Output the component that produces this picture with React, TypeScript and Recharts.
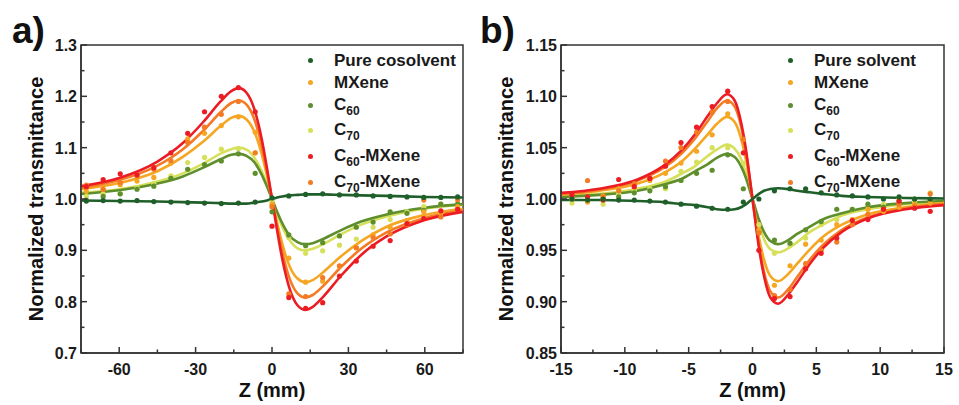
import React from "react";
import {
  ComposedChart,
  Line,
  Scatter,
  XAxis,
  YAxis,
  ReferenceArea,
} from "recharts";

const FONT = "'Liberation Sans', Arial, Helvetica, sans-serif";

const seriesColors = ["#1f5f2a", "#f5a623", "#5e8f2c", "#d6e05b", "#ec1c24", "#f47a24"];
const namesA = ["Pure cosolvent", "MXene", "C60", "C70", "C60-MXene", "C70-MXene"];
const namesB = ["Pure solvent", "MXene", "C60", "C70", "C60-MXene", "C70-MXene"];

// ---- panel a (z in mm) ----
const fitZA = [-75, -60, -45, -35, -27, -20, -16, -13, -10, -7, -4, -2, 0, 2, 4, 7, 10, 13, 16, 20, 27, 35, 45, 60, 75];
const pureFitA = [0.997, 0.996, 0.995, 0.994, 0.993, 0.992, 0.991, 0.991, 0.991, 0.993, 0.995, 0.997, 1.0, 1.003, 1.005, 1.007, 1.008, 1.009, 1.009, 1.009, 1.008, 1.007, 1.006, 1.004, 1.003];
const mxeneFitA = [1.019, 1.031, 1.054, 1.082, 1.112, 1.143, 1.158, 1.162, 1.155, 1.132, 1.087, 1.046, 1.0, 0.954, 0.913, 0.868, 0.845, 0.838, 0.842, 0.857, 0.888, 0.918, 0.946, 0.969, 0.981];
const c60FitA = [1.01, 1.017, 1.03, 1.044, 1.061, 1.078, 1.086, 1.088, 1.084, 1.072, 1.047, 1.025, 1.0, 0.975, 0.953, 0.928, 0.916, 0.912, 0.914, 0.922, 0.939, 0.956, 0.97, 0.983, 0.99];
const c70FitA = [1.012, 1.019, 1.034, 1.05, 1.069, 1.089, 1.097, 1.1, 1.096, 1.081, 1.054, 1.028, 1.0, 0.972, 0.946, 0.919, 0.904, 0.9, 0.903, 0.912, 0.931, 0.95, 0.966, 0.981, 0.989];
const c60mFitA = [1.025, 1.041, 1.073, 1.109, 1.15, 1.191, 1.21, 1.216, 1.207, 1.176, 1.116, 1.061, 1.0, 0.939, 0.884, 0.824, 0.793, 0.784, 0.79, 0.809, 0.85, 0.891, 0.927, 0.959, 0.975];
const c70mFitA = [1.022, 1.037, 1.065, 1.097, 1.133, 1.17, 1.187, 1.192, 1.184, 1.156, 1.103, 1.054, 1.0, 0.946, 0.897, 0.844, 0.816, 0.808, 0.813, 0.83, 0.867, 0.903, 0.935, 0.963, 0.978];

const ptZA = [-72.9, -66.3, -59.6, -53, -46.4, -39.7, -33.1, -26.5, -19.9, -13.2, -6.6, 0, 6.6, 13.2, 19.9, 26.5, 33.1, 39.7, 46.4, 53, 59.6, 66.3, 72.9];
const purePtA = [0.996, 0.997, 0.996, 0.997, 0.995, 0.994, 0.993, 0.992, 0.991, 0.992, 0.994, 1.002, 1.006, 1.009, 1.01, 1.008, 1.008, 1.006, 1.005, 1.004, 1.003, 1.003, 1.004];
const mxenePtA = [1.015, 1.019, 1.028, 1.035, 1.042, 1.07, 1.117, 1.128, 1.143, 1.16, 1.13, 0.99, 0.885, 0.838, 0.84, 0.869, 0.905, 0.93, 0.945, 0.958, 0.975, 0.972, 0.985];
const c60PtA = [0.998, 1.005, 1.01, 1.019, 1.025, 1.04, 1.058, 1.067, 1.074, 1.088, 1.05, 0.975, 0.93, 0.909, 0.915, 0.928, 0.945, 0.955, 0.975, 0.972, 0.978, 0.99, 0.99];
const c70PtA = [1.005, 1.01, 1.01, 1.022, 1.03, 1.045, 1.071, 1.081, 1.097, 1.098, 1.09, 0.995, 0.925, 0.894, 0.899, 0.91, 0.922, 0.945, 0.96, 0.975, 0.985, 0.99, 0.992];
const c60mPtA = [1.024, 1.038, 1.049, 1.047, 1.061, 1.09, 1.128, 1.17, 1.2, 1.217, 1.17, 0.947, 0.808, 0.787, 0.798, 0.85, 0.879, 0.908, 0.919, 0.952, 0.962, 0.977, 0.98];
const c70mPtA = [1.027, 1.019, 1.032, 1.045, 1.058, 1.075, 1.11, 1.14, 1.165, 1.19, 1.09, 0.985, 0.815, 0.81, 0.847, 0.87, 0.905, 0.925, 0.932, 0.95, 0.998, 0.965, 0.999];

const xTicksA = [-75, -60, -45, -30, -15, 0, 15, 30, 45, 60, 75];
const xMajorA = [-60, -30, 0, 30, 60];
const yTicksA = [0.7, 0.75, 0.8, 0.85, 0.9, 0.95, 1.0, 1.05, 1.1, 1.15, 1.2, 1.25, 1.3];
const yMajorA = [0.7, 0.8, 0.9, 1.0, 1.1, 1.2, 1.3];

// ---- panel b (z in mm) ----
const fitZB = [-15, -12, -9, -7, -5.5, -4.5, -3.5, -2.8, -2, -1.4, -0.9, -0.5, -0.25, 0, 0.25, 0.5, 0.9, 1.4, 2, 2.8, 3.5, 4.5, 5.5, 7, 9, 12, 15];
const pureFitB = [0.999, 0.999, 0.998, 0.997, 0.995, 0.994, 0.992, 0.99, 0.9895, 0.99, 0.992, 0.995, 0.9975, 1.0, 1.0025, 1.005, 1.008, 1.0098, 1.0105, 1.0096, 1.008, 1.0065, 1.005, 1.003, 1.002, 1.001, 1.0005];
const mxeneFitB = [1.004, 1.008, 1.015, 1.025, 1.037, 1.049, 1.063, 1.073, 1.08, 1.075, 1.059, 1.037, 1.019, 1.0, 0.981, 0.963, 0.941, 0.925, 0.92, 0.927, 0.937, 0.951, 0.963, 0.975, 0.985, 0.992, 0.996];
const c60FitB = [1.002, 1.004, 1.008, 1.014, 1.02, 1.027, 1.034, 1.04, 1.044, 1.041, 1.032, 1.02, 1.01, 1.0, 0.99, 0.98, 0.968, 0.959, 0.956, 0.96, 0.966, 0.973, 0.98, 0.986, 0.992, 0.996, 0.998];
const c70FitB = [1.003, 1.005, 1.01, 1.016, 1.025, 1.032, 1.042, 1.048, 1.053, 1.049, 1.039, 1.024, 1.013, 1.0, 0.988, 0.976, 0.961, 0.951, 0.948, 0.952, 0.958, 0.968, 0.975, 0.984, 0.99, 0.995, 0.997];
const c60mFitB = [1.006, 1.01, 1.019, 1.032, 1.048, 1.063, 1.081, 1.093, 1.102, 1.096, 1.075, 1.047, 1.024, 1.0, 0.976, 0.953, 0.925, 0.904, 0.898, 0.907, 0.919, 0.937, 0.952, 0.968, 0.981, 0.99, 0.994];
const c70mFitB = [1.005, 1.009, 1.018, 1.03, 1.045, 1.059, 1.076, 1.088, 1.096, 1.09, 1.071, 1.044, 1.023, 1.0, 0.977, 0.956, 0.929, 0.91, 0.904, 0.912, 0.924, 0.941, 0.955, 0.97, 0.982, 0.991, 0.995];

const ptZB = [-14.14, -12.92, -11.7, -10.48, -9.26, -8.04, -6.82, -5.6, -4.38, -3.16, -1.94, -0.72, 0.5, 1.72, 2.94, 4.16, 5.38, 6.6, 7.82, 9.04, 10.26, 11.48, 12.7, 13.92];
const purePtB = [1.0, 0.999, 1.0, 0.999, 0.999, 0.998, 0.997, 0.995, 0.993, 0.991, 0.99, 0.997, 1.0, 1.008, 1.01, 1.01, 1.006, 1.004, 1.003, 1.002, 1.0, 1.002, 1.0, 1.0];
const mxenePtB = [1.0, 0.997, 1.003, 1.01, 1.012, 1.018, 1.025, 1.035, 1.0465, 1.0625, 1.083, 1.058, 0.97, 0.916, 0.935, 0.956, 0.96, 0.975, 0.98, 0.99, 0.988, 0.992, 0.995, 0.996];
const c60PtB = [1.0, 0.998, 1.0, 1.002, 1.006, 1.008, 1.012, 1.018, 1.025, 1.028, 1.043, 1.01, 0.968, 0.96, 0.957, 0.97, 0.978, 0.99, 0.99, 0.995, 0.992, 0.998, 1.0, 0.999];
const c70PtB = [0.996, 1.0, 0.995, 1.005, 1.008, 1.01, 1.01, 1.027, 1.036, 1.05, 1.05, 1.035, 0.975, 0.947, 0.955, 0.962, 0.975, 0.98, 0.99, 0.99, 0.995, 1.0, 0.997, 1.006];
const c60mPtB = [1.004, 1.002, 0.999, 1.019, 1.012, 1.02, 1.032, 1.055, 1.07, 1.09, 1.105, 1.045, 0.95, 0.903, 0.905, 0.932, 0.947, 0.962, 0.979, 0.98, 0.99, 0.998, 0.991, 0.988];
const c70mPtB = [1.003, 1.018, 1.002, 1.008, 1.015, 1.02, 1.037, 1.05, 1.065, 1.085, 1.095, 1.058, 0.967, 0.906, 0.912, 0.937, 0.95, 0.958, 0.975, 0.985, 0.99, 0.995, 0.993, 1.005];

const xTicksB = [-15, -12.5, -10, -7.5, -5, -2.5, 0, 2.5, 5, 7.5, 10, 12.5, 15];
const xMajorB = [-15, -10, -5, 0, 5, 10, 15];
const yTicksB = [0.85, 0.875, 0.9, 0.925, 0.95, 0.975, 1.0, 1.025, 1.05, 1.075, 1.1, 1.125, 1.15];
const yMajorB = [0.85, 0.9, 0.95, 1.0, 1.05, 1.1, 1.15];

const drawOrder = [3, 2, 1, 5, 4, 0];
// legend row centres (px from top)
const legendRowY = [60, 82, 105, 130, 156, 182];

const toRows = (zs: number[], ts: number[]) => zs.map((z, i) => ({ z, t: ts[i] }));
const isIn = (list: number[], v: number) => list.some((m) => Math.abs(m - v) < 1e-9);

function renderName(name: string) {
  const m = name.match(/^C(\d+)(.*)$/);
  if (!m) return name;
  return (
    <>
      C<sub style={{ fontSize: 12, verticalAlign: "baseline", position: "relative", top: 5 }}>{m[1]}</sub>
      {m[2]}
    </>
  );
}

function Panel(props: any) {
  const { width, left, fitZ, fits, ptZ, pts, xDomain, yDomain, xTicks, xMajor, yTicks, yMajor, yFmt, marginRight } = props;

  const xTick = (p: any) => {
    const { x, y, payload } = p;
    const major = isIn(xMajor, payload.value);
    return (
      <g>
        <line x1={x} x2={x} y1={y} y2={y - (major ? 6 : 3.5)} stroke="#333" strokeWidth={1.5} />
        {major && (
          <text x={x} y={y + 22} textAnchor="middle" fontSize={16} fontWeight="bold" fill="#1a1a1a" fontFamily={FONT}>
            {String(payload.value)}
          </text>
        )}
      </g>
    );
  };

  const yTick = (p: any) => {
    const { x, y, payload } = p;
    const major = isIn(yMajor, payload.value);
    return (
      <g>
        <line x1={x} x2={x + (major ? 6 : 3.5)} y1={y} y2={y} stroke="#333" strokeWidth={1.5} />
        {major && (
          <text x={x - 4} y={y + 6} textAnchor="end" fontSize={16} fontWeight="bold" fill="#1a1a1a" fontFamily={FONT}>
            {yFmt(payload.value)}
          </text>
        )}
      </g>
    );
  };

  return (
    <div style={{ position: "absolute", left, top: 0 }}>
      <ComposedChart width={width} height={405} margin={{ top: 45, right: marginRight, bottom: 22, left: 21 }}>
        <XAxis
          type="number"
          dataKey="z"
          domain={xDomain}
          ticks={xTicks}
          interval={0}
          allowDataOverflow
          tickSize={0}
          tickMargin={0}
          tickLine={false}
          tick={xTick}
          height={30}
          axisLine={{ stroke: "#333", strokeWidth: 1.5 }}
        />
        <YAxis
          type="number"
          dataKey="t"
          domain={yDomain}
          ticks={yTicks}
          interval={0}
          allowDataOverflow
          tickSize={0}
          tickMargin={0}
          tickLine={false}
          tick={yTick}
          width={60}
          axisLine={{ stroke: "#333", strokeWidth: 1.5 }}
        />
        <ReferenceArea
          x1={xDomain[0]}
          x2={xDomain[1]}
          y1={yDomain[0]}
          y2={yDomain[1]}
          fill="none"
          fillOpacity={0}
          stroke="#333"
          strokeWidth={1.5}
        />
        {drawOrder.map((i) => (
          <Line
            key={"fit" + i}
            data={toRows(fitZ, fits[i])}
            dataKey="t"
            type="monotone"
            stroke={seriesColors[i]}
            strokeWidth={2.6}
            dot={false}
            activeDot={false}
            isAnimationActive={false}
          />
        ))}
        {drawOrder.map((i) => (
          <Scatter
            key={"pt" + i}
            data={toRows(ptZ, pts[i])}
            dataKey="t"
            fill={seriesColors[i]}
            isAnimationActive={false}
            shape={(s: any) => <circle cx={s.cx} cy={s.cy} r={2.6} fill={seriesColors[i]} />}
          />
        ))}
      </ComposedChart>
    </div>
  );
}

function LegendBox({ left, names }: { left: number; names: string[] }) {
  return (
    <>
      {names.map((n, i) => (
        <div
          key={n}
          style={{
            position: "absolute",
            left,
            top: legendRowY[i] - 10,
            height: 20,
            display: "flex",
            alignItems: "center",
            lineHeight: "17px",
            fontFamily: FONT,
            fontWeight: "bold",
            fontSize: 17,
            color: "#1a1a1a",
            whiteSpace: "nowrap",
          }}
        >
          <span
            style={{
              display: "inline-block",
              width: 5,
              height: 5,
              borderRadius: "50%",
              background: seriesColors[i],
              marginRight: 21.5,
            }}
          />
          <span>{renderName(n)}</span>
        </div>
      ))}
    </>
  );
}

export default function App() {
  const fitsA = [pureFitA, mxeneFitA, c60FitA, c70FitA, c60mFitA, c70mFitA];
  const ptsA = [purePtA, mxenePtA, c60PtA, c70PtA, c60mPtA, c70mPtA];
  const fitsB = [pureFitB, mxeneFitB, c60FitB, c70FitB, c60mFitB, c70mFitB];
  const ptsB = [purePtB, mxenePtB, c60PtB, c70PtB, c60mPtB, c70mPtB];

  return (
    <div style={{ position: "absolute", left: 0, top: 0, width: 959, height: 405, background: "#fff", overflow: "hidden" }}>
      <Panel
        width={480}
        left={0}
        marginRight={17}
        fitZ={fitZA}
        fits={fitsA}
        ptZ={ptZA}
        pts={ptsA}
        xDomain={[-75, 75]}
        yDomain={[0.7, 1.3]}
        xTicks={xTicksA}
        xMajor={xMajorA}
        yTicks={yTicksA}
        yMajor={yMajorA}
        yFmt={(v: number) => v.toFixed(1)}
      />
      <Panel
        width={479}
        left={480}
        marginRight={15}
        fitZ={fitZB}
        fits={fitsB}
        ptZ={ptZB}
        pts={ptsB}
        xDomain={[-15, 15]}
        yDomain={[0.85, 1.15]}
        xTicks={xTicksB}
        xMajor={xMajorB}
        yTicks={yTicksB}
        yMajor={yMajorB}
        yFmt={(v: number) => v.toFixed(2)}
      />
      <LegendBox left={307.5} names={namesA} />
      <LegendBox left={787.5} names={namesB} />
      <svg width={959} height={405} style={{ position: "absolute", left: 0, top: 0, pointerEvents: "none" }}>
        <g fontFamily={FONT} fontWeight="bold" fill="#111">
          <text x={12} y={43} fontSize={37}>a)</text>
          <text x={480} y={43} fontSize={37}>b)</text>
          <text x={272} y={397} fontSize={20} textAnchor="middle">Z (mm)</text>
          <text x={752.5} y={397} fontSize={20} textAnchor="middle">Z (mm)</text>
          <text transform="translate(43,199) rotate(-90)" fontSize={20} textAnchor="middle">Normalized transmittance</text>
          <text transform="translate(513,199) rotate(-90)" fontSize={20} textAnchor="middle">Normalized transmittance</text>
        </g>
      </svg>
    </div>
  );
}
